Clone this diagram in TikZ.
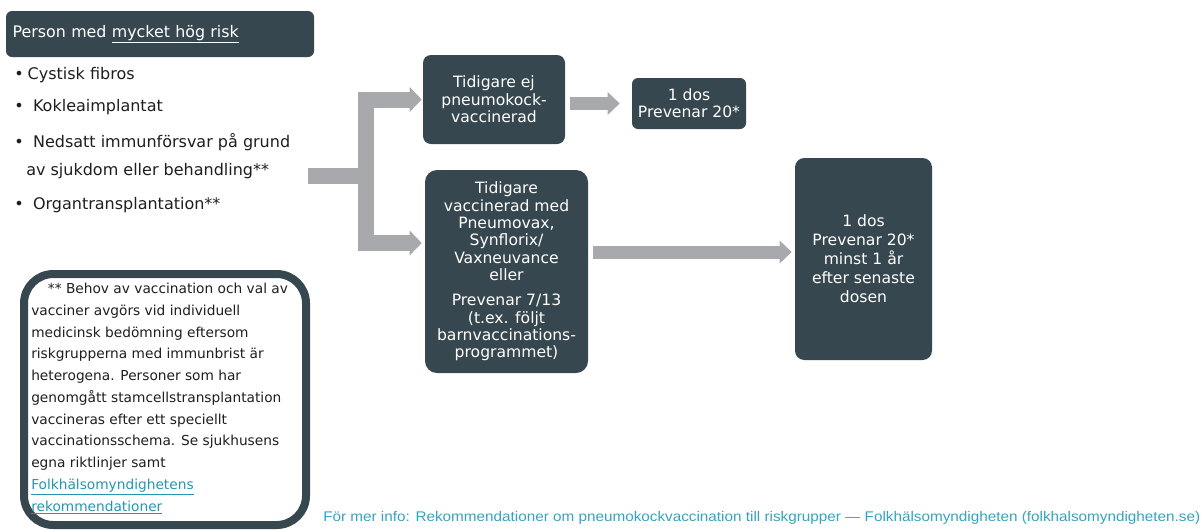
\documentclass[tikz,border=0pt]{standalone}
\usepackage{fontspec}
\setmainfont{DejaVu Sans}
\newfontfamily\arialf{Liberation Sans}
\usetikzlibrary{arrows.meta}
\definecolor{slate}{HTML}{37474F}
\definecolor{barcol}{HTML}{A7A9AC}
\definecolor{linkteal}{HTML}{2596B0}
\definecolor{foottxt}{HTML}{36A3BE}
\definecolor{ink}{HTML}{1E1E1E}
\begin{document}
\begin{tikzpicture}[x=0.75pt,y=-0.75pt,
  box/.style={fill=slate, rounded corners=6pt, text=white, align=center,
    font=\fontsize{11.7}{13}\selectfont, inner sep=0pt},
  listitem/.style={anchor=west, inner sep=0pt, text=ink,
    font=\fontsize{12}{14}\selectfont},
  forkbar/.style={draw=barcol, line width=12pt},
  forkarrow/.style={forkbar, -{Triangle[length=9pt,width=18pt]}},
  thinarrow/.style={draw=barcol, line width=9.75pt, -{Triangle[length=9pt,width=16.5pt]}}]
\useasboundingbox (0,0) rectangle (1202,529);

% header
\node[fill=slate, rounded corners=4.5pt, minimum width=231pt, minimum height=34.5pt,
  text width=221pt, align=left, inner sep=0pt, text=white,
  font=\fontsize{11.9}{13}\selectfont] (head) at (160,34)
  {Person med \underline{mycket hög risk}};

% bullet list
\node[listitem] (l1) at (14,75) {\textbullet\hspace{3pt}Cystisk fibros};
\node[listitem] (l2) at (14,107) {\textbullet\hspace{7pt}Kokleaimplantat};
\node[listitem] (l3) at (14,142) {\textbullet\hspace{7pt}Nedsatt immunförsvar på grund};
\node[listitem] (l4) at (26,171) {av sjukdom eller behandling**};
\node[listitem] (l5) at (14,205) {\textbullet\hspace{7pt}Organtransplantation**};

% boxes
\node[box, minimum width=106.5pt, minimum height=66.75pt] (A) at (494,99.5)
  {Tidigare ej\\pneumokock-\\vaccinerad};
\node[box, minimum width=85.5pt, minimum height=38.25pt, rounded corners=4.5pt] (B) at (689,103.5)
  {1 dos\\Prevenar 20*};
\node[box, minimum width=122.25pt, minimum height=152.25pt, rounded corners=9pt] (C) at (506.5,271.5)
  {Tidigare\\vaccinerad med\\Pneumovax,\\Synflorix/\\Vaxneuvance\\eller\\[6pt]
   Prevenar 7/13\\(t.ex. följt\\barnvaccinations-\\programmet)};
\node[box, minimum width=102.75pt, minimum height=151.5pt, rounded corners=7pt,
  font=\fontsize{11.7}{14.3}\selectfont] (D) at (863.5,259)
  {1 dos\\Prevenar 20*\\minst 1 år\\efter senaste\\dosen};

% connectors
\coordinate (in) at (308,176);
\coordinate (fork) at (366,176);
\coordinate (lowy) at (0,243);
\coordinate (cdy) at (0,252);
\draw[forkbar] (in) -- (fork);
\draw[forkarrow, shorten >=0.75pt] (fork) -- (fork |- A.west) -- (A.west);
\draw[forkarrow, shorten >=2.25pt] (fork) -- (fork |- lowy) -- (C.west |- lowy);
\draw[thinarrow, shorten <=3.75pt, shorten >=9pt] (A.east |- B.west) -- (B.west);
\draw[thinarrow, shorten <=3.75pt, shorten >=2.25pt] (C.east |- cdy) -- (D.west |- cdy);

% footnote box
\node[draw=slate, line width=6pt, rounded corners=22pt, minimum width=211.5pt,
  minimum height=188.25pt, inner sep=0pt] (note) at (165,399.5) {};
\node[anchor=north west, inner sep=0pt, align=left, text=ink,
  font=\fontsize{10.3}{16.3}\selectfont] (notetext) at (31,283)
  {\hspace*{12.5pt}** Behov av vaccination och val av\\
   vacciner avgörs vid individuell\\
   medicinsk bedömning eftersom\\
   riskgrupperna med immunbrist är\\
   heterogena. Personer som har\\
   genomgått stamcellstransplantation\\
   vaccineras efter ett speciellt\\
   vaccinationsschema. Se sjukhusens\\
   egna riktlinjer samt\\
   \textcolor{linkteal}{\underline{Folkhälsomyndighetens}}\\
   \textcolor{linkteal}{\underline{rekommendationer}}};

% bottom source line
\node[anchor=west, inner sep=0pt, text=foottxt, font=\arialf\fontsize{10.5}{12}\selectfont]
  (src) at (323,518)
  {\resizebox{657.75pt}{\height}{För mer info: Rekommendationer om pneumokockvaccination till riskgrupper — Folkhälsomyndigheten (folkhalsomyndigheten.se)}};
\end{tikzpicture}
\end{document}
